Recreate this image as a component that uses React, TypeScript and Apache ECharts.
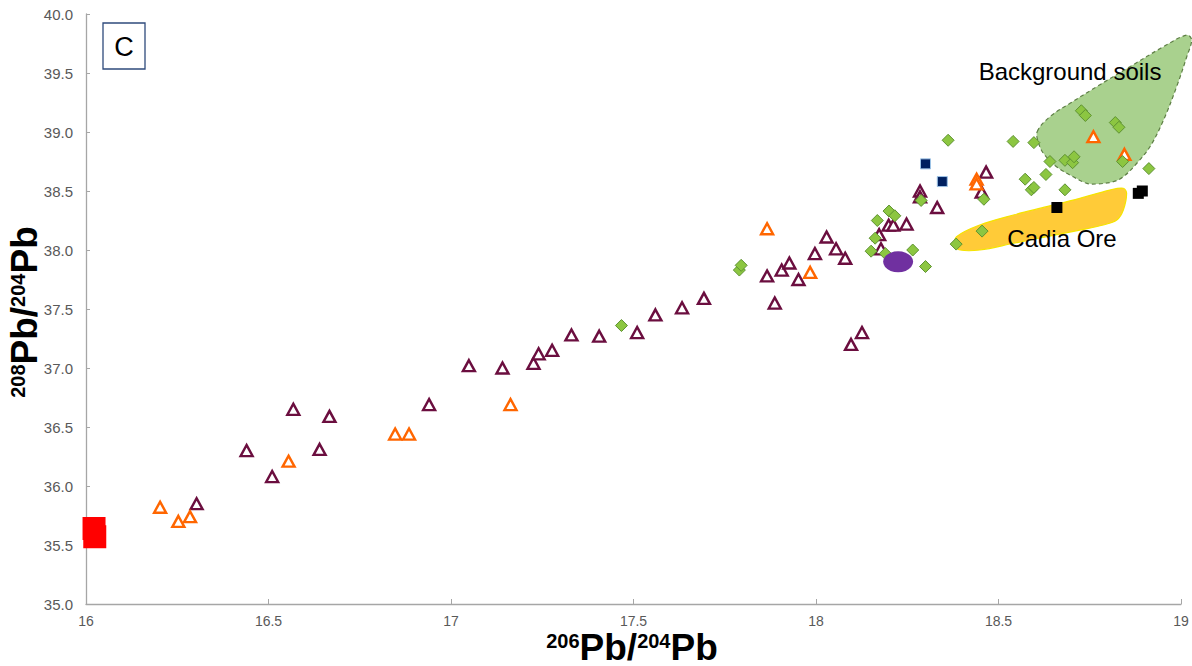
import React, { useEffect, useRef } from "react";
import * as echarts from "echarts";

// 206Pb/204Pb (x) and 208Pb/204Pb (y) pairs per sample group
const maroonX = [16.303, 16.44, 16.51, 16.568, 16.64, 16.667, 16.94, 17.049, 17.141, 17.226, 17.24, 17.277, 17.33, 17.406, 17.51, 17.56, 17.633, 17.693, 17.866, 17.887, 17.906, 17.927, 17.952, 17.997, 18.029, 18.055, 18.08, 18.096, 18.126, 18.173, 18.178, 18.199, 18.212, 18.248, 18.285, 18.285, 18.332, 18.454, 18.466];
const maroonY = [35.85, 36.3, 36.08, 36.65, 36.31, 36.59, 36.69, 37.02, 37.0, 37.04, 37.12, 37.15, 37.28, 37.27, 37.3, 37.45, 37.51, 37.59, 37.78, 37.55, 37.83, 37.89, 37.75, 37.97, 38.11, 38.01, 37.93, 37.2, 37.3, 38.13, 38.01, 38.21, 38.21, 38.22, 38.5, 38.45, 38.36, 38.49, 38.66];

const orangeX = [16.203, 16.253, 16.285, 16.555, 16.847, 16.885, 17.163, 17.866, 17.984, 18.44, 18.44, 18.76, 18.845];
const orangeY = [35.82, 35.7, 35.74, 36.21, 36.44, 36.44, 36.69, 38.18, 37.81, 38.6, 38.56, 38.96, 38.81];

const greenX = [17.467, 17.79, 17.795, 18.151, 18.162, 18.168, 18.19, 18.2, 18.216, 18.265, 18.3, 18.288, 18.362, 18.384, 18.455, 18.46, 18.54, 18.573, 18.59, 18.597, 18.597, 18.63, 18.641, 18.682, 18.682, 18.703, 18.707, 18.727, 18.738, 18.82, 18.83, 18.84, 18.912];
const greenY = [37.36, 37.83, 37.87, 37.99, 38.1, 38.25, 37.97, 38.33, 38.29, 38.0, 37.86, 38.42, 38.93, 38.05, 38.16, 38.43, 38.92, 38.6, 38.51, 38.53, 38.91, 38.64, 38.75, 38.51, 38.76, 38.74, 38.79, 39.18, 39.14, 39.08, 39.04, 38.75, 38.69];

const navyX = [18.3, 18.346];
const navyY = [38.73, 38.58];

const blackX = [18.66, 18.883, 18.894];
const blackY = [38.36, 38.48, 38.5];

const redX = [16.022, 16.024];
const redY = [35.64, 35.57];

const purpleX = [18.225];
const purpleY = [37.9];

// Field outlines
const soilsX = [18.606, 18.641, 18.696, 18.769, 18.86, 18.952, 19.016, 19.029, 19.016, 18.988, 18.952, 18.915, 18.879, 18.842, 18.815, 18.769, 18.742, 18.705, 18.659, 18.623, 18.61];
const soilsY = [39.003, 39.13, 39.243, 39.384, 39.553, 39.723, 39.822, 39.78, 39.64, 39.384, 39.1, 38.875, 38.735, 38.621, 38.579, 38.56, 38.565, 38.62, 38.706, 38.82, 38.905];

const oreX = [18.385, 18.449, 18.541, 18.632, 18.723, 18.805, 18.842, 18.851, 18.842, 18.824, 18.787, 18.723, 18.632, 18.541, 18.449, 18.395, 18.381];
const oreY = [38.113, 38.212, 38.297, 38.367, 38.438, 38.508, 38.523, 38.48, 38.339, 38.254, 38.212, 38.169, 38.113, 38.057, 38.0, 38.0, 38.042];

const xTicksMin = 16;
const xTicksMax = 19;
const yTicksMin = 35;
const yTicksMax = 40;

const zip = (xs: number[], ys: number[]) => xs.map((x, i) => [x, ys[i]]);

const FONT = "'Liberation Sans', Arial, sans-serif";
const AXIS_GREY = "#595959";

function outline(xs: number[], ys: number[], style: any) {
  return {
    type: "custom",
    clip: false,
    silent: true,
    z: 1,
    data: [[xs[0], ys[0]]],
    renderItem: (_params: any, api: any) => {
      const points = xs.map((x, i) => api.coord([x, ys[i]]));
      return {
        type: "polygon",
        shape: { points, smooth: 0.35 },
        style,
      };
    },
  };
}

function triangles(xs: number[], ys: number[], color: string) {
  return {
    type: "scatter",
    symbol: "triangle",
    symbolSize: [12, 11],
    z: 3,
    data: zip(xs, ys),
    itemStyle: { color: "#ffffff", borderColor: color, borderWidth: 2.4, opacity: 1 },
  };
}

export default function App() {
  const ref = useRef<HTMLDivElement>(null);

  useEffect(() => {
    const chart = echarts.init(ref.current!, null, { renderer: "svg" });
    const titleRich = {
      s: { fontSize: 20, fontWeight: "bold", fontFamily: FONT, color: AXIS_GREY, verticalAlign: "top", lineHeight: 32 },
      b: { fontSize: 37, fontWeight: "bold", fontFamily: FONT, color: AXIS_GREY, lineHeight: 32 },
    };
    const titleText = "{s|206}{b|Pb/}{s|204}{b|Pb}";
    const yTitleText = "{s|208}{b|Pb/}{s|204}{b|Pb}";

    chart.setOption({
      animation: false,
      backgroundColor: "#ffffff",
      grid: { left: 86, right: 11, top: 14, bottom: 62 },
      xAxis: {
        type: "value",
        min: xTicksMin,
        max: xTicksMax,
        interval: 0.5,
        splitLine: { show: false },
        axisLine: { lineStyle: { color: "#A6A6A6", width: 1.3 } },
        axisTick: { show: true, inside: true, length: 5, lineStyle: { color: "#A6A6A6" } },
        axisLabel: { color: AXIS_GREY, fontSize: 14, fontFamily: FONT, margin: 10, lineHeight: 14 },
      },
      yAxis: {
        type: "value",
        min: yTicksMin,
        max: yTicksMax,
        interval: 0.5,
        splitLine: { show: false },
        axisLine: { show: true, lineStyle: { color: "#A6A6A6", width: 1.3 } },
        axisTick: { show: true, inside: true, length: 4, lineStyle: { color: "#A6A6A6" } },
        axisLabel: {
          color: AXIS_GREY,
          fontSize: 15,
          fontFamily: FONT,
          margin: 13,
          formatter: (v: number) => v.toFixed(1),
        },
      },
      series: [
        outline(soilsX, soilsY, { fill: "#A9D18E", stroke: "#5E7F45", lineWidth: 1.2, lineDash: [4, 3] }),
        outline(oreX, oreY, { fill: "#FFCB38", stroke: "#F5E400", lineWidth: 1.2 }),
        triangles(maroonX, maroonY, "#6B0E3F"),
        triangles(orangeX, orangeY, "#FF6600"),
        {
          type: "scatter",
          symbol: "diamond",
          symbolSize: 12,
          z: 3,
          data: zip(greenX, greenY),
          itemStyle: { color: "#8CC641", borderColor: "#5E9232", borderWidth: 1, opacity: 1 },
        },
        {
          type: "scatter",
          symbol: "rect",
          symbolSize: 10,
          z: 4,
          data: zip(navyX, navyY),
          itemStyle: { color: "#002060", borderColor: "#9DC3E6", borderWidth: 1, opacity: 1 },
        },
        {
          type: "scatter",
          symbol: "rect",
          symbolSize: 11,
          z: 4,
          data: zip(blackX, blackY),
          itemStyle: { color: "#000000", opacity: 1 },
        },
        {
          type: "scatter",
          symbol: "rect",
          symbolSize: 23,
          z: 4,
          clip: false,
          data: zip(redX, redY),
          itemStyle: { color: "#FF0000", opacity: 1 },
        },
        {
          type: "scatter",
          symbol: "circle",
          symbolSize: [30, 21],
          z: 4,
          data: zip(purpleX, purpleY),
          itemStyle: { color: "#7030A0", opacity: 1 },
        },
      ],
      graphic: [
        {
          type: "rect",
          shape: { x: 103, y: 23, width: 42, height: 46 },
          style: { fill: "#ffffff", stroke: "#2F4B7C", lineWidth: 1.3 },
          z: 10,
        },
        {
          type: "text",
          x: 124,
          y: 47,
          style: { text: "C", fontSize: 27, fontFamily: FONT, fill: "#000000", align: "center", verticalAlign: "middle" },
          z: 11,
        },
        {
          type: "text",
          x: 1070,
          y: 71,
          style: { text: "Background soils", fontSize: 24, fontFamily: FONT, fill: "#000000", align: "center", verticalAlign: "middle" },
          z: 10,
        },
        {
          type: "text",
          x: 1062,
          y: 238,
          style: { text: "Cadia Ore", fontSize: 24, fontFamily: FONT, fill: "#000000", align: "center", verticalAlign: "middle" },
          z: 10,
        },
        {
          type: "text",
          x: 632,
          y: 647,
          style: { text: titleText, rich: titleRich, align: "center", verticalAlign: "middle" },
          z: 10,
        },
        {
          type: "text",
          x: 24,
          y: 312,
          rotation: Math.PI / 2,
          style: { text: yTitleText, rich: titleRich, align: "center", verticalAlign: "middle" },
          z: 10,
        },
      ],
    });
    return () => chart.dispose();
  }, []);

  return <div ref={ref} style={{ position: "fixed", left: 0, top: 0, width: 1192, height: 666 }} />;
}
